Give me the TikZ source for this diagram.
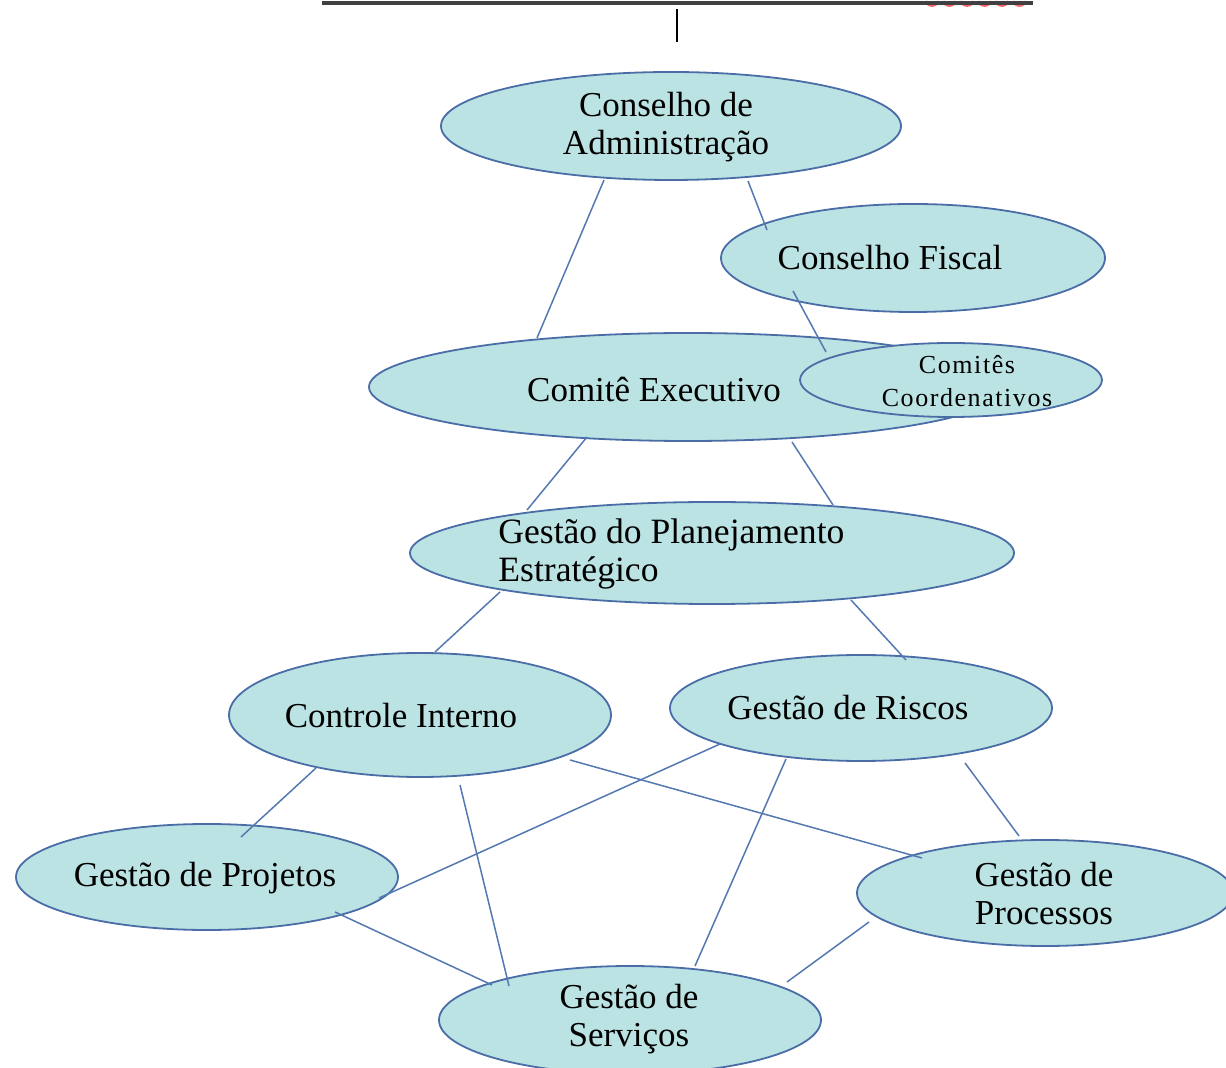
\documentclass[tikz,border=0pt]{standalone}
\usepackage{fontspec}
\setmainfont{Liberation Serif}
\usetikzlibrary{shapes.geometric,calc}
\definecolor{efill}{HTML}{BCE3E3}
\definecolor{edraw}{HTML}{4A6DA7}
\definecolor{lcol}{HTML}{5478B0}
\begin{document}
\begin{tikzpicture}[x=0.5pt,y=-0.5pt,
  ell/.style 2 args={ellipse,draw=edraw,fill=efill,line width=0.9pt,inner sep=0pt,minimum width=#1pt,minimum height=#2pt},
  lbl/.style={font=\fontsize{17.5}{19}\selectfont,align=center,inner sep=0pt,text=black},
  conn/.style={draw=lcol,line width=0.75pt}]
\useasboundingbox (0,0) rectangle (1226,1068);
% top remnants
\foreach \i in {0,...,5}{\draw[red!60,line width=0.9pt] (926+\i*17.5,1) arc (180:0:6 and 5);}
\draw[line width=1.6pt,color=black!75] (322,3) -- (1033,3);
\draw[line width=1pt] (677,9) -- (677,42);
% ellipses
\node[ell={230}{54}] (adm) at (671,126) {};
\node[ell={192}{54}] (fis) at (913,258) {};
\node[ell={319}{54}] (exe) at (688,387) {};
\node[ell={151}{37}] (com) at (951,380) {};
\node[ell={302}{51}] (pla) at (712,553) {};
\node[ell={191}{62}] (ctl) at (420,715) {};
\node[ell={191}{53}] (ris) at (861,708) {};
\node[ell={191}{53}] (prj) at (207,877) {};
\node[ell={188}{53}] (prc) at (1045,893) {};
\node[ell={191}{54}] (srv) at (630,1020) {};
% labels
\node[lbl] (tadm) at (666,127) {Conselho de\\Administração};
\node[lbl] (tfis) at (890,258) {Conselho Fiscal};
\node[lbl] (texe) at (654,389) {Comitê Executivo};
\node[lbl,font=\fontsize{13}{16.5}\selectfont\addfontfeature{LetterSpace=6}] (tcom) at (967,381) {Comitês\\Coordenativos};
\node[lbl,anchor=west,align=left,font=\fontsize{17.8}{19}\selectfont] (tpla) at (498,554) {Gestão do Planejamento\\Estratégico};
\node[lbl] (tctl) at (401,716) {Controle Interno};
\node[lbl] (tris) at (848,708) {Gestão de Riscos};
\node[lbl] (tprj) at (205,878) {Gestão de Projetos};
\node[lbl] (tprc) at (1044,894) {Gestão de\\Processos};
\node[lbl] (tsrv) at (629,1019) {Gestão de\\Serviços};
% connectors
\draw[conn] ($(adm)+(-67,54)$) -- ($(exe)+(-151,-49)$);
\draw[conn] ($(adm)+(77,55)$) -- ($(fis)+(-146,-28)$);
\draw[conn] ($(fis)+(-120,33)$) -- ($(com)+(-125,-28)$);
\draw[conn] ($(exe)+(-101,50)$) -- ($(pla)+(-185,-43)$);
\draw[conn] ($(exe)+(104,55)$) -- ($(pla)+(121,-48)$);
\draw[conn] ($(pla)+(-212,39)$) -- ($(ctl)+(15,-63)$);
\draw[conn] ($(pla)+(139,47)$) -- ($(ris)+(45,-48)$);
\draw[conn] ($(ctl)+(-104,53)$) -- ($(prj)+(34,-40)$);
\draw[conn] ($(ctl)+(40,70)$) -- ($(srv)+(-121,-34)$);
\draw[conn] ($(ctl)+(150,45)$) -- ($(prc)+(-123,-35)$);
\draw[conn] ($(ris)+(-141,36)$) -- ($(prj)+(172,21)$);
\draw[conn] ($(ris)+(-75,51)$) -- ($(srv)+(65,-54)$);
\draw[conn] ($(ris)+(104,55)$) -- ($(prc)+(-26,-57)$);
\draw[conn] ($(prj)+(128,35)$) -- ($(srv)+(-138,-35)$);
\draw[conn] ($(prc)+(-176,29)$) -- ($(srv)+(157,-38)$);
\end{tikzpicture}
\end{document}
